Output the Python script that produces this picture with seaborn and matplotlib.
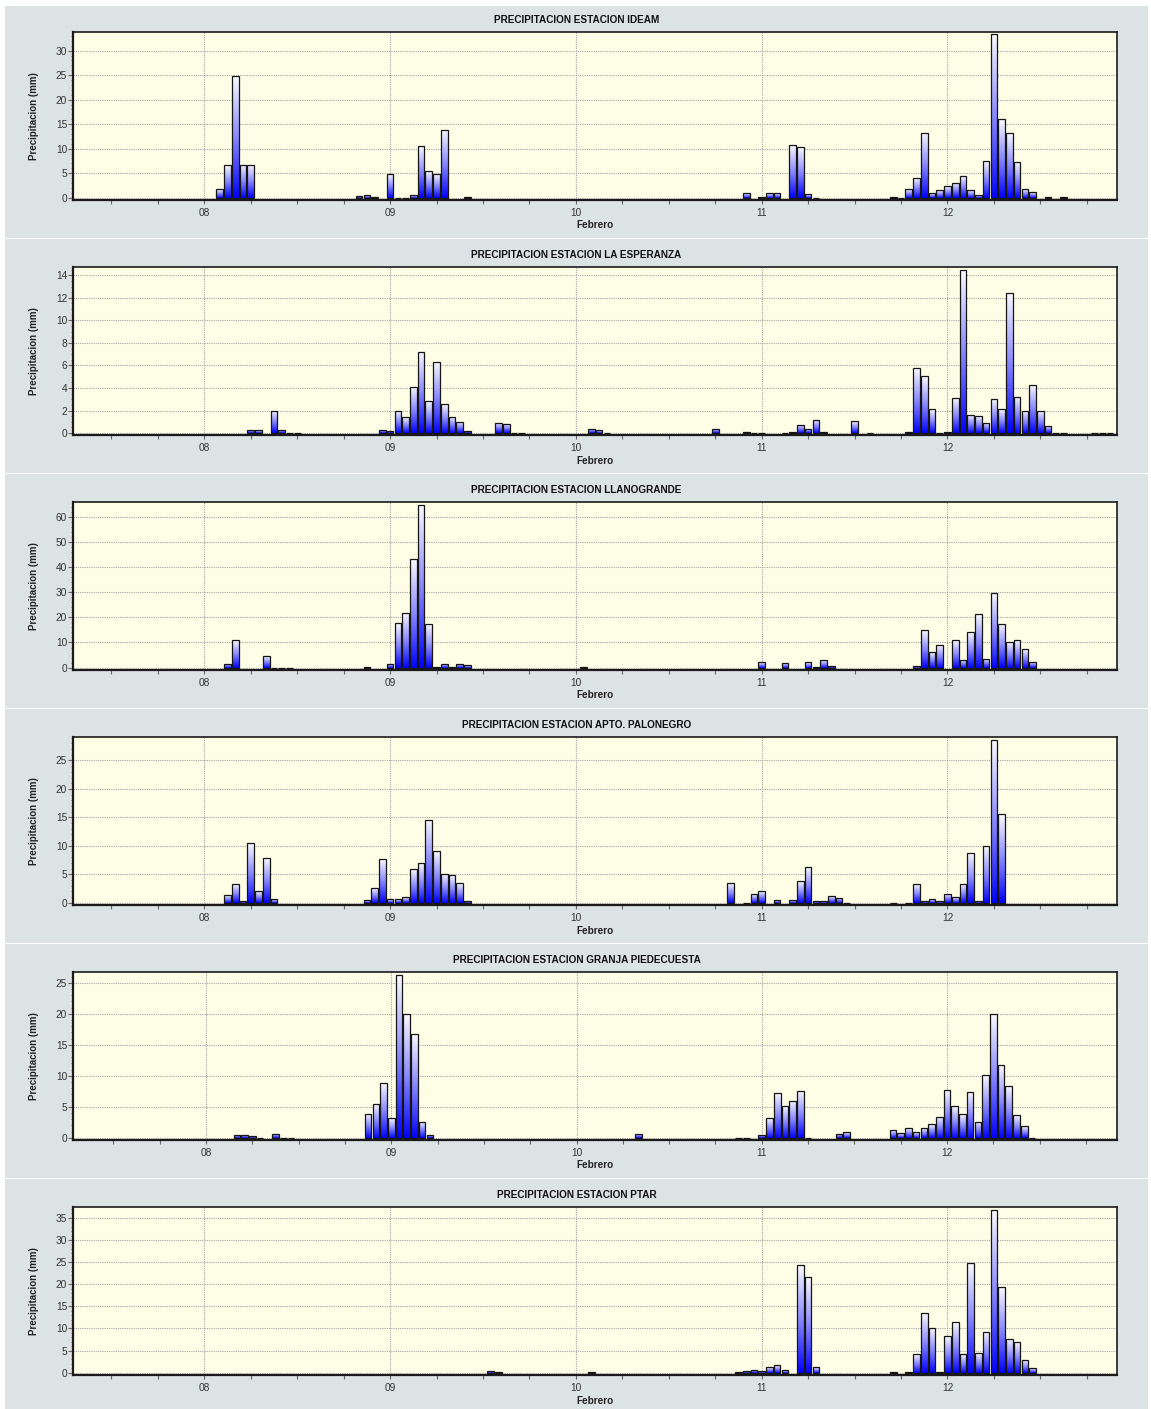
import numpy as np
import pandas as pd
import matplotlib
matplotlib.use("Agg")
import matplotlib.pyplot as plt
import seaborn as sns
from matplotlib.colors import LinearSegmentedColormap
from matplotlib.patches import Rectangle
from matplotlib.ticker import MultipleLocator

# ---------------- data (hours counted from 08 Feb 00:00, precipitation mm) ----------------
TITLES = [
    "PRECIPITACION ESTACION IDEAM",
    "PRECIPITACION ESTACION LA ESPERANZA",
    "PRECIPITACION ESTACION LLANOGRANDE",
    "PRECIPITACION ESTACION APTO. PALONEGRO",
    "PRECIPITACION ESTACION GRANJA PIEDECUESTA",
    "PRECIPITACION ESTACION PTAR",
]

IDEAM_H = [2, 3, 4, 5, 6, 20, 21, 22, 24, 25, 26, 27, 28, 29, 30, 31, 34,
           70, 72, 73, 74, 76, 77, 78, 79,
           89, 90, 91, 92, 93, 94, 95, 96, 97, 98, 99, 100, 101, 102, 103, 104, 105, 106, 107, 109, 111]
IDEAM_MM = [1.8, 6.6, 24.8, 6.75, 6.75, 0.3, 0.5, 0.1, 4.8, 0, 0, 0.5, 10.5, 5.5, 4.8, 13.9, 0.1,
            0.9, 0.1, 0.9, 0.9, 10.7, 10.3, 0.7, 0,
            0.2, 0, 1.8, 4.0, 13.3, 0.9, 1.6, 2.4, 3.1, 4.4, 1.5, 0.5, 7.5, 33.4, 16.0, 13.2, 7.3, 1.8, 1.1, 0.2, 0.2]

ESPERANZA_H = [6, 7, 9, 10, 11, 12, 23, 24, 25, 26, 27, 28, 29, 30, 31, 32, 33, 34, 38, 39, 40, 41,
               50, 51, 52, 66, 70, 71, 72, 75, 76, 77, 78, 79, 80, 84, 86,
               91, 92, 93, 94, 95, 96, 97, 98, 99, 100, 101, 102, 103, 104, 105, 106, 107, 108, 109,
               110, 111, 115, 116, 117]
ESPERANZA_MM = [0.3, 0.25, 2.0, 0.3, 0, 0, 0.3, 0.2, 2.0, 1.4, 4.1, 7.2, 2.8, 6.3, 2.55, 1.45, 1.0, 0.2, 0.9, 0.8, 0, 0,
                0.4, 0.25, 0, 0.4, 0.1, 0, 0, 0, 0.1, 0.75, 0.4, 1.2, 0.1, 1.05, 0,
                0.1, 5.75, 5.05, 2.1, 0, 0.1, 3.1, 14.45, 1.6, 1.5, 0.9, 3.0, 2.1, 12.45, 3.2, 2.0, 4.3, 2.0, 0.65,
                0, 0, 0, 0, 0]

LLANO_H = [3, 4, 8, 9, 10, 11, 21, 24, 25, 26, 27, 28, 29, 30, 31, 32, 33, 34, 49,
           72, 75, 78, 79, 80, 81,
           92, 93, 94, 95, 97, 98, 99, 100, 101, 102, 103, 104, 105, 106, 107]
LLANO_MM = [1.6, 11.1, 4.75, 0, 0, 0, 0.1, 1.6, 17.7, 21.9, 43.3, 64.8, 17.3, 0.2, 1.6, 0.1, 1.6, 0.9, 0.1,
            2.2, 1.7, 2.2, 0.3, 2.9, 0.8,
            0.5, 15.0, 6.1, 9.1, 11.1, 3.2, 14.0, 21.4, 3.6, 29.7, 17.5, 10.3, 10.8, 7.5, 2.4]

PALONEGRO_H = [3, 4, 5, 6, 7, 8, 9, 21, 22, 23, 24, 25, 26, 27, 28, 29, 30, 31, 32, 33, 34,
               68, 70, 71, 72, 74, 76, 77, 78, 79, 80, 81, 82, 83,
               89, 91, 92, 93, 94, 95, 96, 97, 98, 99, 100, 101, 102, 103]
PALONEGRO_MM = [1.4, 3.3, 0.2, 10.5, 2.1, 7.8, 0.7, 0.5, 2.5, 7.65, 0.7, 0.7, 1.0, 5.95, 7.0, 14.6, 9.0, 5.1, 4.85, 3.4, 0.2,
                3.4, 0, 1.5, 2.0, 0.5, 0.4, 3.85, 6.25, 0.2, 0.2, 1.2, 0.9, 0,
                0, 0, 3.2, 0.2, 0.7, 0.2, 1.6, 1.05, 3.3, 8.75, 0.3, 10.0, 28.6, 15.5]

PIEDECUESTA_H = [4, 5, 6, 7, 9, 10, 11, 21, 22, 23, 24, 25, 26, 27, 28, 29, 56,
                 69, 70, 72, 73, 74, 75, 76, 77, 78, 82, 83,
                 89, 90, 91, 92, 93, 94, 95, 96, 97, 98, 99, 100, 101, 102, 103, 104, 105, 106, 107]
PIEDECUESTA_MM = [0.5, 0.5, 0.2, 0, 0.65, 0, 0, 3.9, 5.4, 8.75, 3.2, 26.3, 19.9, 16.8, 2.6, 0.5, 0.65,
                  0, 0, 0.5, 3.2, 7.15, 5.1, 6.0, 7.6, 0, 0.65, 0.9,
                  1.2, 0.7, 1.6, 0.85, 1.6, 2.2, 3.4, 7.7, 5.1, 3.8, 7.4, 2.6, 10.05, 19.9, 11.7, 8.3, 3.65, 1.9, 0]

PTAR_H = [37, 38, 50, 69, 70, 71, 72, 73, 74, 75, 77, 78, 79,
          89, 91, 92, 93, 94, 95, 96, 97, 98, 99, 100, 101, 102, 103, 104, 105, 106, 107]
PTAR_MM = [0.45, 0.1, 0.1, 0.1, 0.35, 0.7, 0.45, 1.2, 1.8, 0.6, 24.3, 21.7, 1.2,
           0.1, 0.1, 4.2, 13.6, 10.2, 0.2, 8.2, 11.4, 4.2, 24.7, 4.4, 9.3, 36.8, 19.3, 7.7, 6.9, 2.9, 1.05]

SERIES = [(IDEAM_H, IDEAM_MM), (ESPERANZA_H, ESPERANZA_MM), (LLANO_H, LLANO_MM),
          (PALONEGRO_H, PALONEGRO_MM), (PIEDECUESTA_H, PIEDECUESTA_MM), (PTAR_H, PTAR_MM)]

X_TICKS = [8, 9, 10, 11, 12]
X_LABELS = ["08", "09", "10", "11", "12"]
X_LABEL = "Febrero"
Y_LABEL = "Precipitacion (mm)"

# ---------------- layout / style ----------------
YLIMS = [(-0.53, 33.75), (-0.2, 14.71), (-1.05, 65.7), (-0.47, 29.07), (-0.42, 26.7), (-0.6, 37.4)]
YMAJOR = [5, 2, 10, 5, 5, 5]
YMINOR = [1, 0.5, 2, 1, 1, 1]
XLIMS = [(7.2947, 12.91)] * 4 + [(7.2835, 12.915)] + [(7.2947, 12.91)]

sns.set_theme(style="white")
plt.rcParams["font.family"] = ["Liberation Sans", "DejaVu Sans"]

W, H = 1151, 1409
fig = plt.figure(figsize=(W / 100, H / 100), dpi=100, facecolor="white")

PANEL_BG = "#DCE3E4"
AX_BG = "#FEFEE7"
cmap = LinearSegmentedColormap.from_list("wb", ["#FAFAFF", "#8888FF", "#0000FF"])
grad = np.linspace(0, 1, 256).reshape(-1, 1)

for i, (hrs, mm) in enumerate(SERIES):
    off = 235 * i
    top = 6 if i == 0 else 4 + off
    bot = 1409 if i == 5 else 237.5 + off
    fig.patches.append(Rectangle((5 / W, 1 - bot / H), (1148 - 5) / W, (bot - top) / H,
                                 transform=fig.transFigure, facecolor=PANEL_BG,
                                 edgecolor="none", zorder=-10))

    ax_top, ax_bot = 32.3 + off, 200.3 + off
    ax = fig.add_axes([73.3 / W, 1 - ax_bot / H, (1116.5 - 73.3) / W, (ax_bot - ax_top) / H])
    ax.set_facecolor(AX_BG)
    ax.set_axisbelow(True)

    df = pd.DataFrame({"t": 8 + np.asarray(hrs, dtype=float) / 24.0, "mm": mm})
    sns.barplot(data=df, x="t", y="mm", native_scale=True, width=0.86, color="#0000FF",
                edgecolor="#151515", linewidth=0.9, errorbar=None, ax=ax)

    for p in list(ax.patches):
        x0, y0 = p.get_x(), p.get_y()
        w, h = p.get_width(), p.get_height()
        p.set_facecolor("none")
        p.set_zorder(2)
        if h > 0:
            im = ax.imshow(grad, cmap=cmap, extent=[x0, x0 + w, y0, y0 + h],
                           aspect="auto", zorder=1.5, interpolation="bilinear")
            im.set_clip_path(p)

    ax.set_xlim(*XLIMS[i])
    ax.set_ylim(*YLIMS[i])
    ax.set_aspect("auto")
    ax.set_xticks(X_TICKS, X_LABELS)
    ax.xaxis.set_minor_locator(MultipleLocator(0.25))
    ax.yaxis.set_major_locator(MultipleLocator(YMAJOR[i]))
    ax.yaxis.set_minor_locator(MultipleLocator(YMINOR[i]))
    ax.set_xlabel("")
    ax.set_ylabel("")

    ax.grid(True, which="major", color="#a6a6a6", linestyle=(0, (1, 1)), linewidth=0.8)
    ax.tick_params(axis="both", which="both", direction="out", colors="#666666",
                   labelcolor="#333333", labelsize=7.3)
    ax.tick_params(axis="y", which="major", length=3.5, width=0.8, pad=1, left=True)
    ax.tick_params(axis="y", which="minor", length=1.8, width=0.6, left=True)
    ax.tick_params(axis="x", which="major", length=3, width=0.8, pad=2.5, bottom=True)
    ax.tick_params(axis="x", which="minor", length=3, width=0.8, bottom=True)

    for side, sp in ax.spines.items():
        sp.set_visible(True)
        sp.set_color("#1a1a1a")
        sp.set_linewidth(1.6 if side in ("left", "bottom") else 1.2)

    fig.text(576.5 / W, 1 - (20 + off) / H, TITLES[i], ha="center", va="center",
             fontsize=7.2, fontweight="bold", color="#111111")
    fig.text(595 / W, 1 - (225.5 + off) / H, X_LABEL, ha="center", va="center",
             fontsize=7.2, fontweight="bold", color="#222222")
    fig.text(34 / W, 1 - (116 + off) / H, Y_LABEL, ha="center", va="center", rotation=90,
             fontsize=7.0, fontweight="bold", color="#222222")

fig.savefig("out.png", dpi=100, facecolor="white")
